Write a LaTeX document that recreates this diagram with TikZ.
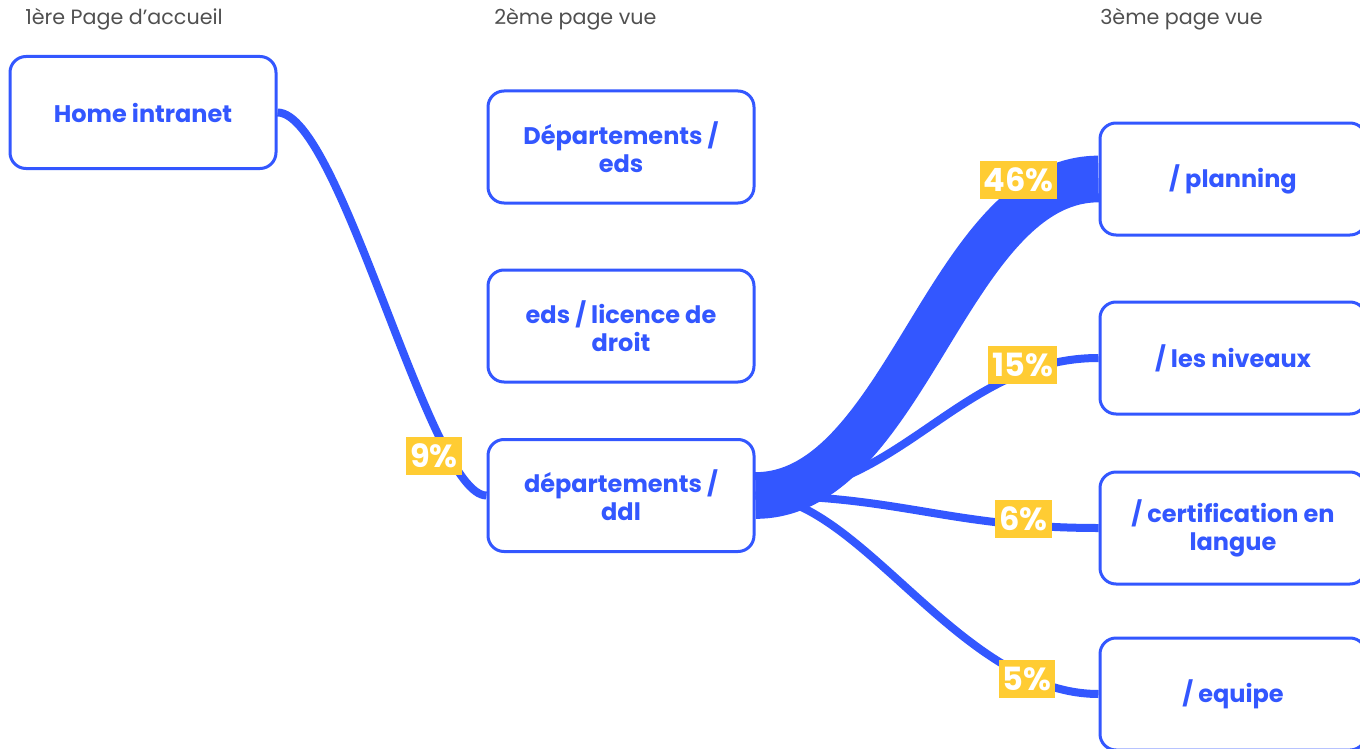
\documentclass[tikz,border=0pt]{standalone}
\usepackage{fontspec}
\setmainfont{Poppins}
\usetikzlibrary{backgrounds}
\definecolor{flowblue}{RGB}{51,87,255}
\definecolor{tagyellow}{RGB}{255,204,51}
\definecolor{headgray}{RGB}{80,80,80}
\tikzset{
  pagebox/.style={draw=flowblue, line width=2.25pt, rounded corners=12pt, fill=white,
    minimum width=199.5pt, minimum height=84pt, align=center, text=flowblue,
    font=\bfseries\fontsize{18}{21}\selectfont},
  header/.style={anchor=west, text=headgray, font=\fontsize{15.5}{18}\selectfont, inner sep=0pt},
  pct/.style={fill=tagyellow, text=white, minimum height=28.5pt, inner xsep=3pt, inner ysep=0pt,
    font=\bfseries\fontsize{24}{24}\selectfont},
  flow/.style={draw=flowblue, line width=6pt},
  bigflow/.style={draw=flowblue, line width=35pt}
}
\begin{document}
\begin{tikzpicture}[x=0.75pt, y=-0.75pt]
\useasboundingbox (0,0) rectangle (1360,749);
\clip (0,0) rectangle (1360,749);
\node[header] (h1) at (25,19) {1ère Page d’accueil};
\node[header] (h2) at (494,19) {2ème page vue};
\node[header] (h3) at (1100,19) {3ème page vue};

\node[pagebox] (home) at (143,112.5) {Home intranet};
\node[pagebox] (deds) at (621,147) {Départements /\\eds};
\node[pagebox] (lic) at (621,326) {eds / licence de\\droit};
\node[pagebox] (ddl) at (621,495.5) {départements /\\ddl};
\node[pagebox] (plan) at (1233,179) {/ planning};
\node[pagebox] (niv) at (1233,358) {/ les niveaux};
\node[pagebox] (cert) at (1233,528) {/ certification en\\langue};
\node[pagebox] (equ) at (1233,694) {/ equipe};

\begin{scope}[on background layer]
\draw[flow] (home.east) .. controls +(63,0) and +(-57,0) .. (ddl.west);
\draw[flow] (ddl.east) .. controls +(145,0) and +(-139,0) .. (niv.west);
\draw[flow] (ddl.east) .. controls +(145,0) and +(-149,0) .. (cert.west);
\draw[flow] (ddl.east) .. controls +(105,0) and +(-139,0) .. (equ.west);
\draw[bigflow] (ddl.east) .. controls +(150,0) and +(-150,0) .. (plan.west);
\end{scope}

\node[pct] (p9) at (434,455.5) {9\%};
\node[pct] (p46) at (1018.5,179.5) {46\%};
\node[pct] (p15) at (1022.5,364.5) {15\%};
\node[pct] (p6) at (1023.5,518.5) {6\%};
\node[pct] (p5) at (1027,678.5) {5\%};
\end{tikzpicture}
\end{document}
